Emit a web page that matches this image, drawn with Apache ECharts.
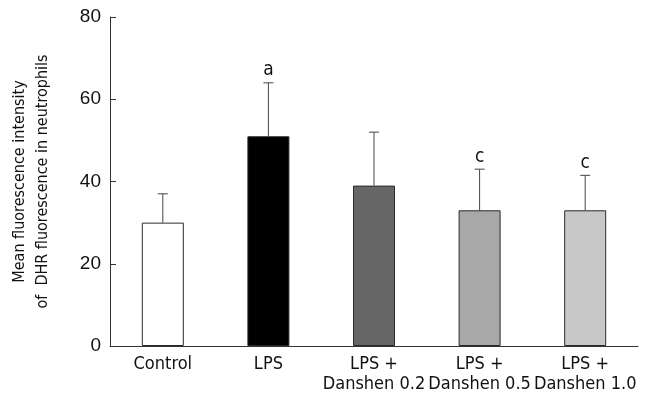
<!DOCTYPE html>
<html>
<head>
<meta charset="utf-8">
<script src="https://cdn.jsdelivr.net/npm/echarts@6/dist/echarts.min.js"></script>
<style>html,body{margin:0;padding:0;background:#fff;}#c{width:654px;height:396px;}</style>
</head>
<body>
<div id="c"></div>
<script>
var categories = ['Control', 'LPS', 'LPS +\nDanshen 0.2', 'LPS +\nDanshen 0.5', 'LPS +\nDanshen 1.0'];
var means = [30, 51, 39, 33, 33];
var errorTops = [37, 64, 52, 43, 41.5];
var sigLabels = ['', 'a', '', 'c', 'c'];
var barColors = ['#ffffff', '#000000', '#666666', '#a8a8a8', '#c8c8c8'];
var yTicks = {min: 0, max: 80, interval: 20};
var yTitle = 'Mean fluorescence intensity\nof  DHR fluorescence in neutrophils';

var FONT = '"DejaVu Sans Condensed", "DejaVu Sans", sans-serif';
var chart = echarts.init(document.getElementById('c'), null, {renderer: 'canvas'});
chart.setOption({
  animation: false,
  backgroundColor: '#ffffff',
  grid: {left: 107, right: 16, top: 17, bottom: 50, containLabel: false},
  xAxis: {
    type: 'category',
    data: categories,
    axisLine: {lineStyle: {color: '#333', width: 1}},
    axisTick: {inside: true, length: 6, alignWithLabel: false, lineStyle: {color: '#333'}},
    axisLabel: {color: '#111', fontFamily: FONT, fontSize: 18, lineHeight: 20, margin: 8, interval: 0}
  },
  yAxis: {
    type: 'value',
    min: yTicks.min, max: yTicks.max, interval: yTicks.interval,
    name: yTitle,
    nameLocation: 'middle',
    nameRotate: 90,
    nameGap: 56,
    nameTextStyle: {color: '#111', fontFamily: FONT, fontSize: 16, lineHeight: 23},
    axisLine: {show: true, lineStyle: {color: '#333', width: 1}},
    axisTick: {show: true, inside: true, length: 6, lineStyle: {color: '#333'}},
    axisLabel: {color: '#111', fontFamily: '"Liberation Sans", Arial, sans-serif', fontSize: 19, margin: 9},
    splitLine: {show: false}
  },
  series: [
    {
      type: 'bar',
      barWidth: 42,
      data: means.map(function (v, i) {
        return {value: v, itemStyle: {color: barColors[i], borderColor: '#2a2a2a', borderWidth: 1}};
      }),
      z: 2
    },
    {
      type: 'custom',
      z: 3,
      data: means.map(function (v, i) { return [i, v, errorTops[i]]; }),
      renderItem: function (params, api) {
        var i = api.value(0);
        var base = api.coord([i, api.value(1)]);
        var top = api.coord([i, api.value(2)]);
        var half = 5;
        var children = [
          {type: 'line', shape: {x1: base[0], y1: base[1], x2: top[0], y2: top[1]}, style: {stroke: '#444', lineWidth: 1}},
          {type: 'line', shape: {x1: top[0] - half, y1: top[1], x2: top[0] + half, y2: top[1]}, style: {stroke: '#444', lineWidth: 1}}
        ];
        var lab = sigLabels[params.dataIndex];
        if (lab) {
          children.push({type: 'text', x: top[0], y: top[1] - 3, style: {text: lab, fill: '#111', font: '19px ' + FONT, align: 'center', verticalAlign: 'bottom'}});
        }
        return {type: 'group', children: children};
      }
    }
  ]
});
</script>
</body>
</html>
